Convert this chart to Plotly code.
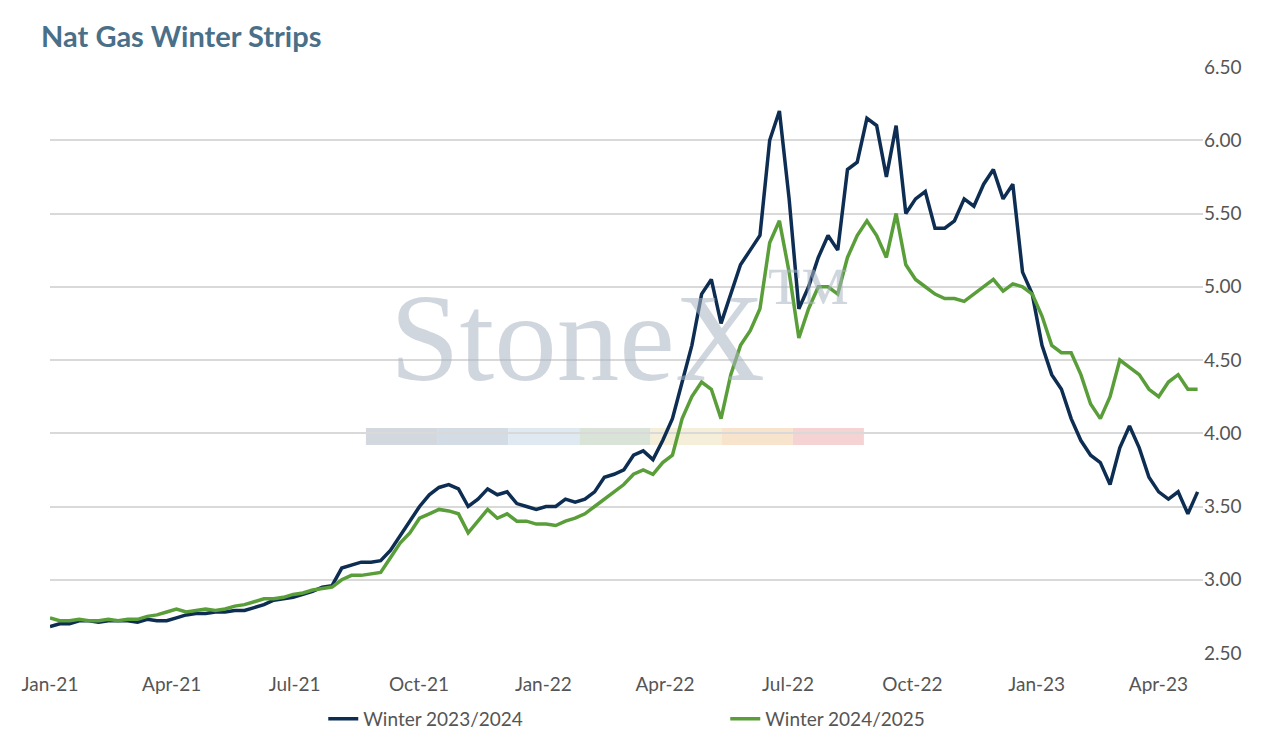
import pandas as pd
import plotly.graph_objects as go

w2324 = [2.68,2.70,2.70,2.72, 2.72,2.71,2.72,2.72, 2.72,2.71,2.73,2.72,
 2.72,2.74,2.76,2.77,2.77, 2.78,2.78,2.79,2.79, 2.81,2.83,2.86,2.87,
 2.88,2.90,2.92,2.95,2.96, 3.08,3.10,3.12,3.12, 3.13,3.20,3.30,3.40,
 3.50,3.58,3.63,3.65,3.62, 3.50,3.55,3.62,3.58, 3.60,3.52,3.50,3.48,3.50,
 3.50,3.55,3.53,3.55, 3.60,3.70,3.72,3.75, 3.85,3.88,3.82,3.95,4.10,
 4.35,4.60,4.95,5.05, 4.75,4.95,5.15,5.25, 5.35,6.00,6.20,5.60,
 4.85,5.00,5.20,5.35,5.25, 5.80,5.85,6.15,6.10, 5.75,6.10,5.50,5.60,
 5.65,5.40,5.40,5.45,5.60, 5.55,5.70,5.80,5.60, 5.70,5.10,4.95,4.60,
 4.40,4.30,4.10,3.95, 3.85,3.80,3.65,3.90, 4.05,3.90,3.70,3.60,
 3.55,3.60,3.45,3.60]
w2425 = [2.74,2.72,2.72,2.73, 2.72,2.72,2.73,2.72, 2.73,2.73,2.75,2.76,
 2.78,2.80,2.78,2.79,2.80, 2.79,2.80,2.82,2.83, 2.85,2.87,2.87,2.88,
 2.90,2.91,2.93,2.94,2.95, 3.00,3.03,3.03,3.04, 3.05,3.15,3.25,3.32,
 3.42,3.45,3.48,3.47,3.45, 3.32,3.40,3.48,3.42, 3.45,3.40,3.40,3.38,3.38,
 3.37,3.40,3.42,3.45, 3.50,3.55,3.60,3.65, 3.72,3.75,3.72,3.80,3.85,
 4.10,4.25,4.35,4.30, 4.10,4.40,4.60,4.70, 4.85,5.30,5.45,5.10,
 4.65,4.85,5.00,5.00,4.95, 5.20,5.35,5.45,5.35, 5.20,5.50,5.15,5.05,
 5.00,4.95,4.92,4.92,4.90, 4.95,5.00,5.05,4.97, 5.02,5.00,4.95,4.80,
 4.60,4.55,4.55,4.40, 4.20,4.10,4.25,4.50, 4.45,4.40,4.30,4.25,
 4.35,4.40,4.30,4.30]
dates = pd.date_range("2021-01-01", "2023-04-30", periods=len(w2324))
tick_dates = pd.date_range("2021-01-01", "2023-04-01", freq="3MS")
tick_text = [d.strftime("%b-%y") for d in tick_dates]

fig = go.Figure()
fig.add_trace(go.Scatter(x=dates, y=w2324, mode="lines", name="Winter 2023/2024",
                         line=dict(color="#0d2d52", width=3.5)))
fig.add_trace(go.Scatter(x=dates, y=w2425, mode="lines", name="Winter 2024/2025",
                         line=dict(color="#5a9e3a", width=3.5)))

fig.add_annotation(text="StoneX<sup style='font-size:16px'>™</sup>",
                   xref="paper", yref="paper", x=0.495, y=0.555, showarrow=False,
                   font=dict(family="Liberation Serif", size=125, color="rgba(170,180,195,0.55)"))
cols = ["#c8ced6", "#c8d3df", "#d6e3ef", "#cfdccd", "#f3ead0", "#f6dcc0", "#f2c8c8"]
for i, c in enumerate(cols):
    x0 = 0.274 + i * 0.0617
    fig.add_shape(type="rect", xref="paper", yref="paper", x0=x0, x1=x0 + 0.0617,
                  y0=0.355, y1=0.384, fillcolor=c, line_width=0, opacity=0.8, layer="below")

fig.update_layout(
    width=1272, height=744, plot_bgcolor="white", paper_bgcolor="white",
    font=dict(family="Lato", size=19, color="#555"),
    title=dict(text="<b>Nat Gas Winter Strips</b>", x=0.026, y=0.975,
               font=dict(size=29, color="#4a6f88")),
    margin=dict(l=42, r=77, t=59, b=99),
    xaxis=dict(tickvals=tick_dates, ticktext=tick_text, showgrid=False,
               range=["2021-01-01", "2023-05-04"], ticks="outside", ticklen=14,
               tickcolor="white", zeroline=False),
    yaxis=dict(side="right", range=[2.5, 6.5], dtick=0.5, tickformat=".2f",
               gridcolor="#d9d9d9", gridwidth=1.5, zeroline=False, ticklen=0),
    legend=dict(orientation="h", x=0.237, xanchor="left", y=-0.08, yanchor="top",
                font=dict(size=19), entrywidth=357, entrywidthmode="pixels"),
)
fig.write_html("out.html")
